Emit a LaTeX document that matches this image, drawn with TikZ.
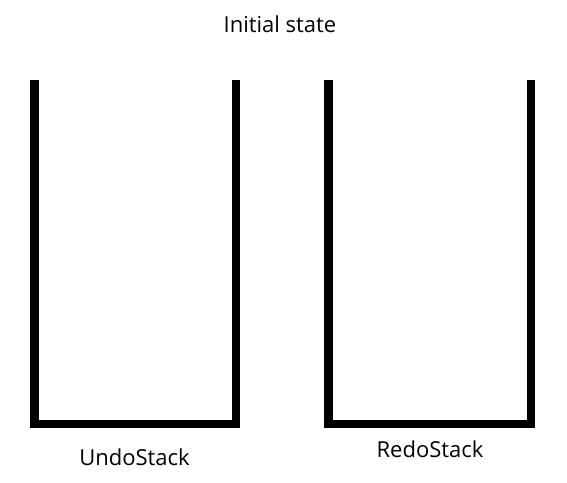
\documentclass[tikz,border=0pt]{standalone}
\usepackage{fontspec}
\setmainfont{Open Sans}
\begin{document}
\begin{tikzpicture}[x=1pt,y=-1pt,
  stackline/.style={line width=8.5pt,line join=miter,line cap=butt},
  lbl/.style={font=\fontsize{22}{26}\selectfont,inner sep=0pt}]
\useasboundingbox (0,0) rectangle (567,482);
\coordinate (u1) at (34.5,80);
\coordinate (u2) at (34.5,424);
\coordinate (u3) at (236,424);
\coordinate (u4) at (236,80);
\coordinate (r1) at (328.5,80);
\coordinate (r2) at (328.5,424);
\coordinate (r3) at (531,424);
\coordinate (r4) at (531,80);
\draw[stackline] (u1) -- (u2) -- (u3) -- (u4);
\draw[stackline] (r1) -- (r2) -- (r3) -- (r4);
\node[lbl] (title) at (280,24) {Initial state};
\node[lbl] (undo) at (134.5,457) {UndoStack};
\node[lbl] (redo) at (430,449) {RedoStack};
\end{tikzpicture}
\end{document}
